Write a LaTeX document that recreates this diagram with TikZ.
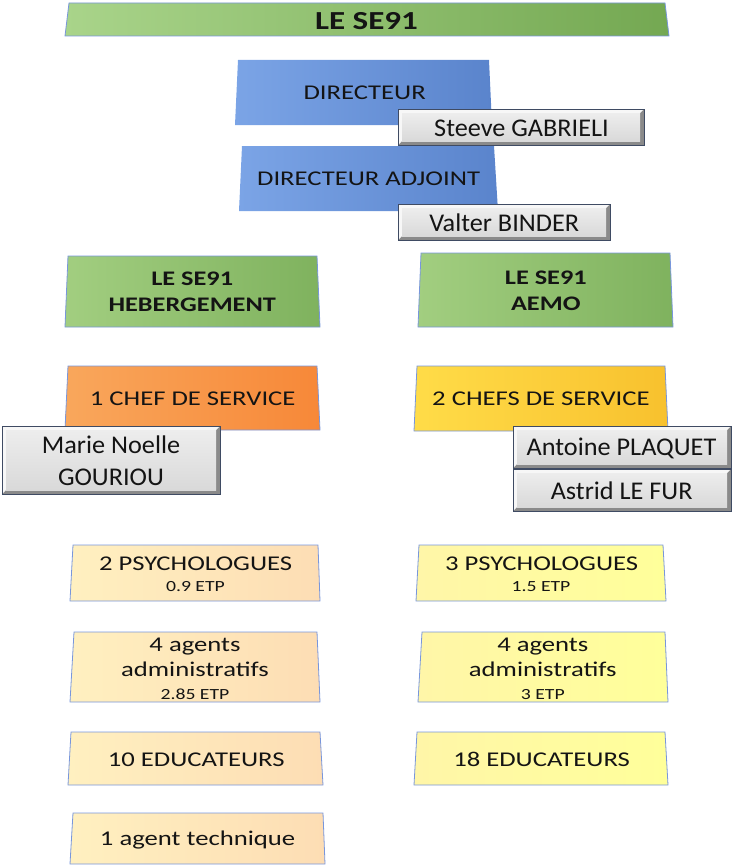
\documentclass[tikz,border=0pt]{standalone}
\usepackage{fontspec}
\setmainfont{Carlito}
\newfontfamily\wf{Carlito}[FakeStretch=1.27]
\newfontfamily\gf{Carlito}[FakeStretch=1.03]
\definecolor{txtc}{HTML}{141414}
\definecolor{boxline}{HTML}{7896DC}
\definecolor{grA}{HTML}{A9D48A}\definecolor{grB}{HTML}{74A852}
\definecolor{gsA}{HTML}{A2CE80}\definecolor{gsB}{HTML}{7FB25E}
\definecolor{blA}{HTML}{7BA4E6}\definecolor{blB}{HTML}{5A84CC}
\definecolor{orA}{HTML}{F9A75C}\definecolor{orB}{HTML}{F78838}
\definecolor{goA}{HTML}{FFDC48}\definecolor{goB}{HTML}{F8C12E}
\definecolor{peA}{HTML}{FFF0C0}\definecolor{peM}{HTML}{FFF6D6}\definecolor{peB}{HTML}{FDDDB4}
\definecolor{lyA}{HTML}{FFF6A8}\definecolor{lyB}{HTML}{FFFF9A}
\definecolor{gdark}{HTML}{8A8A8A}\definecolor{glight}{HTML}{F7F7F7}
\definecolor{ginTop}{HTML}{EDEDED}\definecolor{ginBot}{HTML}{D9D9D9}
\definecolor{gborder}{HTML}{3F4B63}
\newcommand\skbox[5]{\path[#1] #2 -- #3 -- #4 -- #5 -- cycle;}
\newcommand\grbox[4]{%
  \fill[gdark] (#1,#2) rectangle (#3,#4);
  \fill[glight] (#1,#4) -- (#1,#2) -- (#3,#2) -- (#3-4,#2+4) -- (#1+4,#2+4) -- (#1+4,#4-4) -- cycle;
  \shade[top color=ginTop,bottom color=ginBot] (#1+4,#2+4) rectangle (#3-4,#4-4);
  \draw[gborder, line width=0.9pt] (#1,#2) rectangle (#3,#4);}
\tikzset{
  cbox/.style={draw=boxline, line width=0.8pt},
  green/.style={cbox, left color=grA, right color=grB},
  gsub/.style={cbox, left color=gsA, right color=gsB},
  blue/.style={cbox, draw=none, left color=blA, right color=blB},
  orange/.style={cbox, left color=orA, right color=orB},
  gold/.style={cbox, left color=goA, right color=goB},
  peach/.style={cbox, left color=peA, middle color=peM, right color=peB},
  lyel/.style={cbox, left color=lyA, right color=lyB},
  t/.style={anchor=base, inner sep=0pt, text=txtc},
  wt/.style={t, font=\wf\fontsize{21}{25}\selectfont},
  wb/.style={t, font=\wf\bfseries\fontsize{20.7}{25}\selectfont},
  ws/.style={t, font=\wf\fontsize{15.5}{18}\selectfont},
  gt/.style={t, font=\gf\fontsize{25.5}{30}\selectfont},
}
\begin{document}
\begin{tikzpicture}[x=1pt,y=-1pt]
\useasboundingbox (0,0) rectangle (733,867);
% top
\skbox{green}{(69,3)}{(665,3)}{(669,36)}{(65,36)}
\node[t, font=\wf\bfseries\fontsize{26}{30}\selectfont] (top) at (366.5,29.3) {LE SE91};
% directeur
\skbox{blue}{(238,60)}{(489,60)}{(492,125)}{(235,125)}
\node[wt] (dir) at (364.7,99.3) {DIRECTEUR};
\grbox{398}{109}{644}{145}
\node[gt] (steeve) at (521.5,136.7) {Steeve GABRIELI};
\skbox{blue}{(242,146)}{(494,146)}{(498,211)}{(239,211)}
\node[wt] (adj) at (368.6,185) {DIRECTEUR ADJOINT};
\grbox{398}{204}{610}{240}
\node[gt] (valter) at (504.2,231.7) {Valter BINDER};
% services
\skbox{gsub}{(68,256)}{(317,256)}{(320,327)}{(65,327)}
\node[wb] (heb1) at (192.2,285) {LE SE91};
\node[wb] (heb2) at (192.2,311) {HEBERGEMENT};
\skbox{gsub}{(421,253)}{(670,253)}{(673,327)}{(418,327)}
\node[wb] (aemo1) at (545.8,284) {LE SE91};
\node[wb] (aemo2) at (545.8,310) {AEMO};
% chefs
\skbox{orange}{(68,366)}{(317,366)}{(320,430)}{(65,430)}
\node[wt] (chef1) at (192.7,405) {1 CHEF DE SERVICE};
\skbox{gold}{(417,366)}{(665,366)}{(668,431)}{(414,431)}
\node[wt] (chef2) at (541,405.7) {2 CHEFS DE SERVICE};
\grbox{2}{426}{220}{494}
\node[gt] (marie1) at (111,453.3) {Marie Noelle};
\node[gt] (marie2) at (111,485) {GOURIOU};
\grbox{513}{426}{731}{468}
\node[gt] (antoine) at (621.5,455.7) {Antoine PLAQUET};
\grbox{513}{469}{731}{511}
\node[gt] (astrid) at (621.7,499) {Astrid LE FUR};
% psychologues
\skbox{peach}{(73,545)}{(318,545)}{(320,601)}{(70,601)}
\node[wt] (psy1) at (195.6,570) {2 PSYCHOLOGUES};
\node[ws] (psy1e) at (195.5,591.7) {0.9 ETP};
\skbox{lyel}{(419,545)}{(663,545)}{(666,601)}{(416,601)}
\node[wt] (psy2) at (541.6,570) {3 PSYCHOLOGUES};
\node[ws] (psy2e) at (541,591.7) {1.5 ETP};
% administratifs
\skbox{peach}{(74,632)}{(317,632)}{(320,702)}{(70,702)}
\node[wt] (adm1a) at (195,651.7) {4 agents};
\node[wt] (adm1b) at (195,676.7) {administratifs};
\node[ws] (adm1c) at (195,699) {2.85 ETP};
\skbox{lyel}{(422,632)}{(665,632)}{(668,702)}{(418,702)}
\node[wt] (adm2a) at (542.8,651.7) {4 agents};
\node[wt] (adm2b) at (542.8,676.7) {administratifs};
\node[ws] (adm2c) at (542.8,699) {3 ETP};
% educateurs
\skbox{peach}{(71,732)}{(320,732)}{(323,785)}{(68,785)}
\node[wt] (edu1) at (196.2,766) {10 EDUCATEURS};
\skbox{lyel}{(417,732)}{(665,732)}{(668,785)}{(414,785)}
\node[wt] (edu2) at (541.6,766) {18 EDUCATEURS};
% technique
\skbox{peach}{(73,813)}{(323,813)}{(325,864)}{(70,864)}
\node[wt] (tech) at (197.6,845) {1 agent technique};
\end{tikzpicture}
\end{document}
